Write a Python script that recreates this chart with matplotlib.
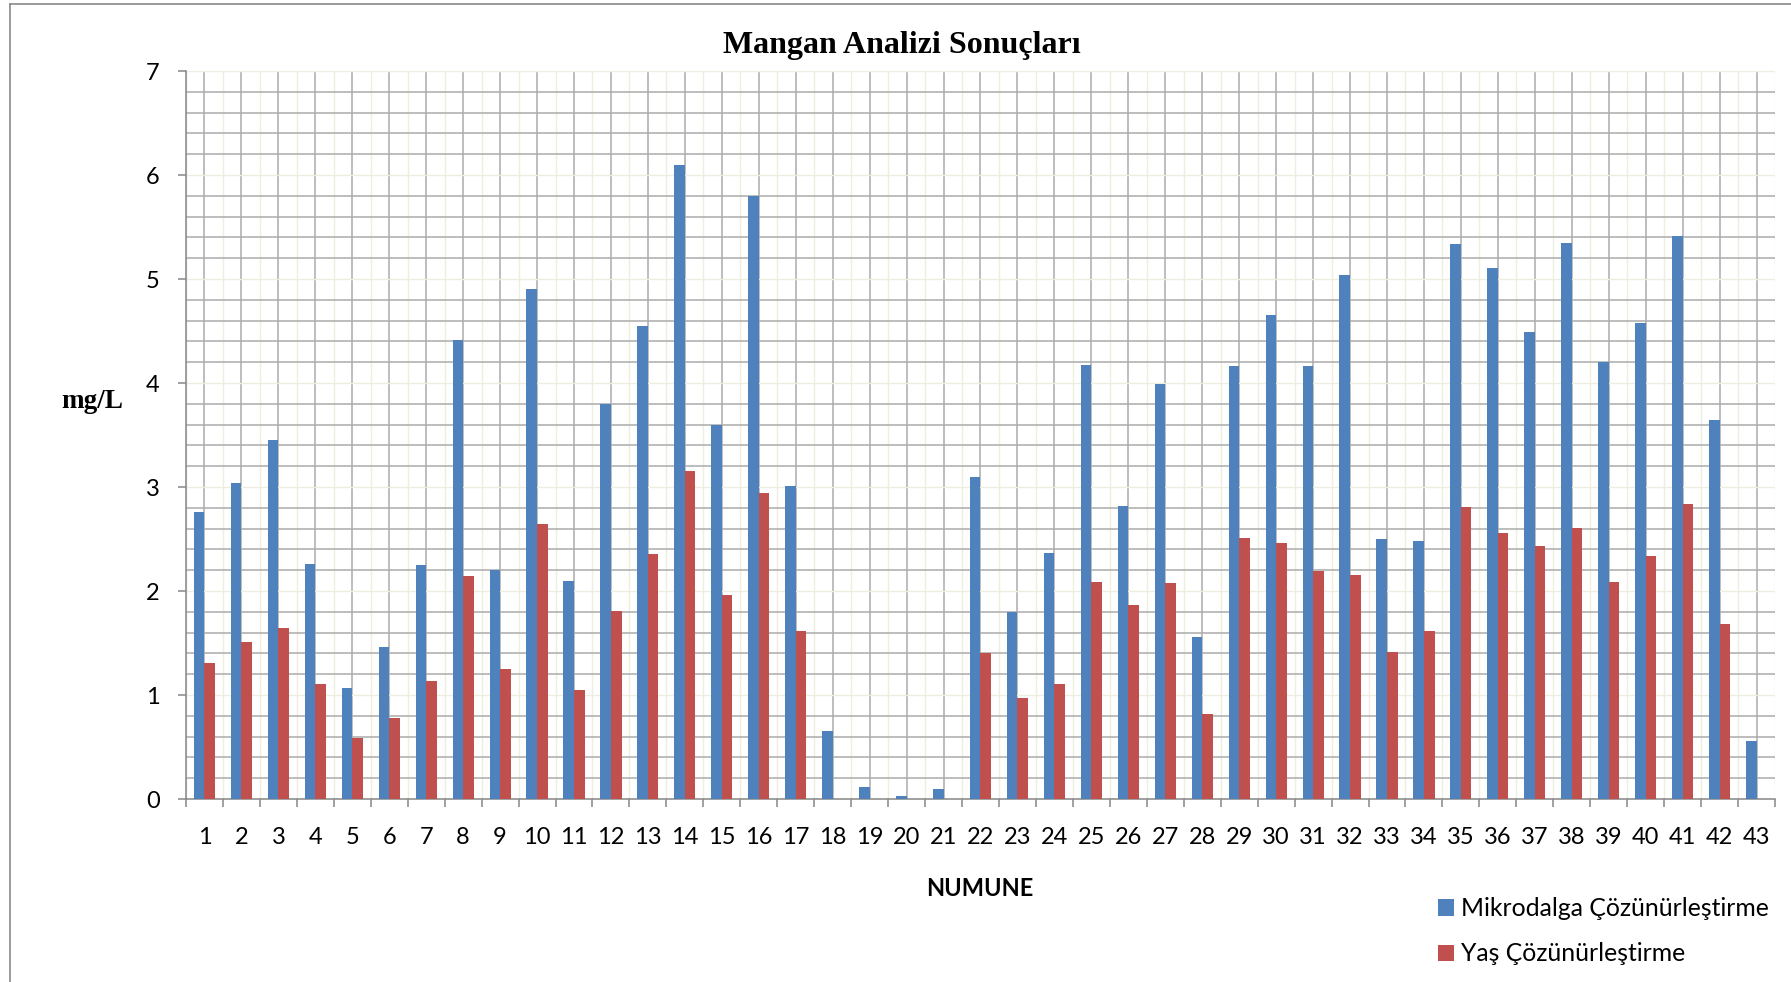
import numpy as np
import matplotlib
matplotlib.use("Agg")
import matplotlib.pyplot as plt
from matplotlib.lines import Line2D
from matplotlib.ticker import MultipleLocator

# numune verileri (mg/L)
samples = list(range(1, 44))
mikrodalga = [2.76, 3.04, 3.45, 2.26, 1.07, 1.46, 2.25, 4.41, 2.20, 4.90,
              2.10, 3.80, 4.55, 6.10, 3.60, 5.80, 3.01, 0.65, 0.12, 0.03,
              0.10, 3.10, 1.80, 2.37, 4.17, 2.82, 3.99, 1.56, 4.16, 4.65,
              4.16, 5.04, 2.50, 2.48, 5.34, 5.11, 4.49, 5.35, 4.20, 4.58,
              5.41, 3.64, 0.56]
yas = [1.31, 1.51, 1.64, 1.11, 0.59, 0.78, 1.13, 2.14, 1.25, 2.64,
       1.05, 1.81, 2.36, 3.15, 1.96, 2.94, 1.62, 0.0, 0.0, 0.0,
       0.0, 1.40, 0.97, 1.11, 2.09, 1.87, 2.08, 0.82, 2.51, 2.46,
       2.19, 2.15, 1.41, 1.62, 2.81, 2.56, 2.43, 2.61, 2.09, 2.34,
       2.84, 1.68, 0.0]
series_names = ["Mikrodalga Çözünürleştirme", "Yaş Çözünürleştirme"]

blue = "#4F81BD"
red = "#C0504D"
grid_gray = "#ababab"
grid_light = "#efece0"
axis_gray = "#868686"

fig = plt.figure(figsize=(17.91, 9.82), dpi=100)
W, H = 1791, 982
ax = fig.add_axes([186 / W, 1 - 799 / H, (1775 - 186) / W, (799 - 71) / H])

x = np.array(samples)
w = 0.286
b1 = ax.bar(x - w / 2, mikrodalga, w, color=blue, zorder=3, label=series_names[0])
b2 = ax.bar(x + w / 2, yas, w, color=red, zorder=3, label=series_names[1])

ax.set_xlim(0.5, 43.5)
ax.set_ylim(0, 7)
ax.set_axisbelow(True)

# x: merkezlerde etiket (gri çizgi), sınırlarda tik (açık çizgi)
ax.set_xticks(x)
ax.set_xticklabels([str(s) for s in samples])
ax.set_xticks(np.arange(0.5, 44, 1), minor=True)
ax.tick_params(axis="x", which="major", length=0, pad=20, labelsize=17)
ax.tick_params(axis="x", which="minor", length=6, width=1.1, color=axis_gray, direction="out")

# y: tam sayılarda tik (açık çizgi), 0.2'de gri çizgi
ax.yaxis.set_major_locator(MultipleLocator(1))
ax.yaxis.set_minor_locator(MultipleLocator(0.2))
ax.tick_params(axis="y", which="major", length=6, width=1.1, color=axis_gray, pad=13, labelsize=17)
ax.tick_params(axis="y", which="minor", length=0)

ax.grid(True, axis="x", which="major", color=grid_gray, lw=1.1)
ax.grid(True, axis="x", which="minor", color=grid_light, lw=1.0)
ax.grid(True, axis="y", which="minor", color=grid_gray, lw=1.1)
ax.grid(True, axis="y", which="major", color=grid_light, lw=1.0)

for lab in ax.get_xticklabels() + ax.get_yticklabels():
    lab.set_fontfamily("Lato")

ax.spines["top"].set_visible(False)
ax.spines["right"].set_visible(False)
for s in ("left", "bottom"):
    ax.spines[s].set_color(axis_gray)
    ax.spines[s].set_linewidth(1.1)

fig.text(902 / W, 1 - 45 / H, "Mangan Analizi Sonuçları", ha="center", va="center",
         fontsize=23, fontweight="bold", family="Liberation Serif")
fig.text(92 / W, 1 - 402 / H, "mg/L", ha="center", va="center",
         fontsize=19.5, fontweight="bold", family="Liberation Serif")
fig.text(980 / W, 1 - 889 / H, "NUMUNE", ha="center", va="center",
         fontsize=17, fontweight="bold", family="Lato")

fig.legend(handles=[b1, b2], labels=series_names, loc="upper left",
           bbox_to_anchor=(1438 / W, 1 - 897 / H), frameon=False,
           prop={"family": "Lato", "size": 17.8}, handlelength=0.65,
           handleheight=0.65, handletextpad=0.3, labelspacing=0.91,
           borderpad=0, borderaxespad=0)

# dış çerçeve
fig.add_artist(Line2D([10 / W, 1], [1 - 4 / H, 1 - 4 / H], color="#8a8a8a", lw=1.2,
                      transform=fig.transFigure))
fig.add_artist(Line2D([10 / W, 10 / W], [0, 1 - 4 / H], color="#8a8a8a", lw=1.2,
                      transform=fig.transFigure))

fig.savefig("out.png", dpi=100)
